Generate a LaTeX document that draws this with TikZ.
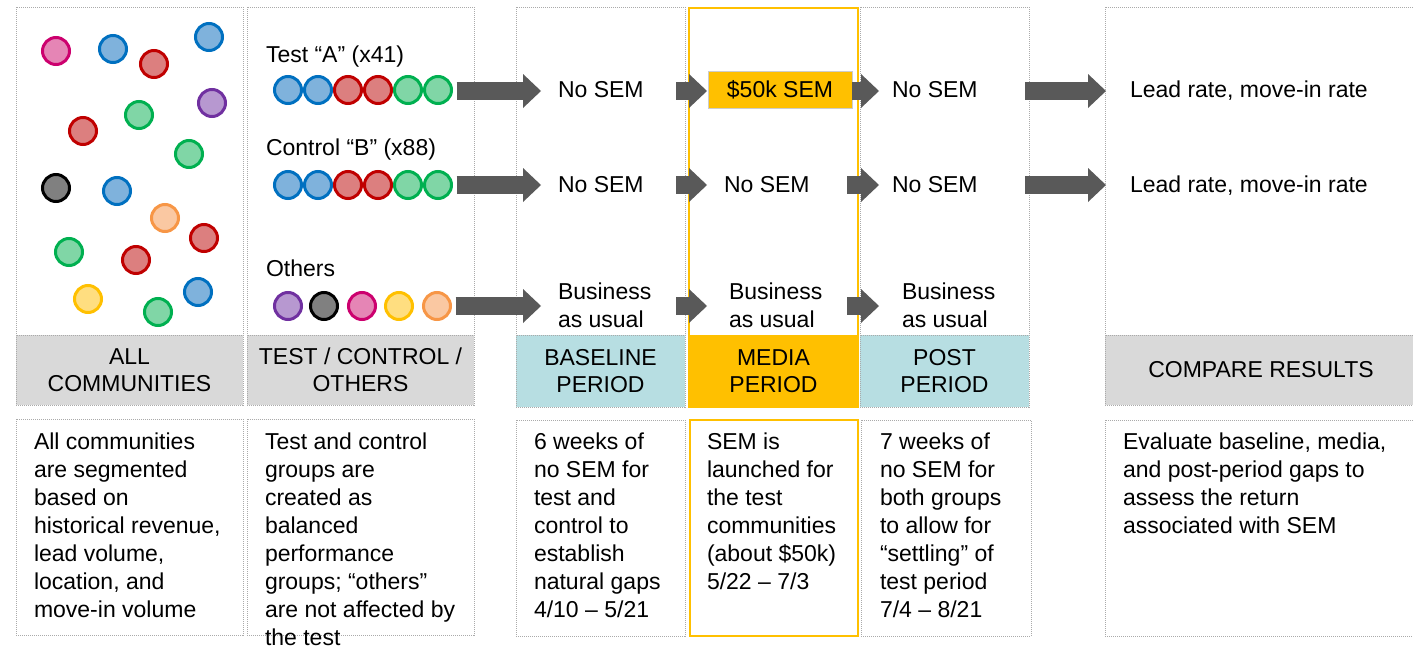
\documentclass[tikz,border=0pt]{standalone}
\usepackage{fontspec}
\setmainfont{Liberation Sans}
\usetikzlibrary{arrows.meta,calc}
\definecolor{cB}{RGB}{0,112,192}\definecolor{cBf}{RGB}{127,178,220}
\definecolor{cR}{RGB}{192,0,0}\definecolor{cRf}{RGB}{220,127,127}
\definecolor{cG}{RGB}{0,176,80}\definecolor{cGf}{RGB}{128,214,166}
\definecolor{cP}{RGB}{204,0,110}\definecolor{cPf}{RGB}{229,133,181}
\definecolor{cV}{RGB}{112,48,160}\definecolor{cVf}{RGB}{183,152,208}
\definecolor{cK}{RGB}{0,0,0}\definecolor{cKf}{RGB}{128,128,128}
\definecolor{cO}{RGB}{247,150,70}\definecolor{cOf}{RGB}{250,200,162}
\definecolor{cY}{RGB}{255,192,0}\definecolor{cYf}{RGB}{255,222,128}
\definecolor{gold}{RGB}{255,192,0}
\definecolor{teal}{RGB}{183,222,226}
\definecolor{hgray}{RGB}{217,217,217}
\definecolor{agray}{RGB}{89,89,89}
\definecolor{dotgray}{RGB}{170,170,170}
\begin{document}
\begin{tikzpicture}[x=1pt,y=-1pt,
  every node/.style={font=\fontsize{23}{28}\selectfont, inner sep=0pt, outer sep=0pt},
  dot/.style={circle, minimum size=27pt, line width=3pt, draw=c#1, fill=c#1f},
  panel/.style={draw=dotgray, dash pattern=on 1pt off 1pt, line width=1pt},
  hdr/.style={panel, align=center, font=\fontsize{23}{27}\selectfont},
  media/.style={draw=gold, line width=2pt},
  lbl/.style={anchor=base west},
  ml/.style={anchor=west, align=left},
  para/.style={anchor=north west, align=left},
  bigarrow/.style={draw=agray, line width=18pt, -{Triangle[width=34pt,length=18pt,line width=0pt]}}
]
\useasboundingbox (0,0) rectangle (1413,645);
% top panels
\node[panel, minimum width=227pt, minimum height=328pt] (p1) at (129.5,171) {};
\node[panel, minimum width=227pt, minimum height=328pt] (p2) at (360.5,171) {};
\node[panel, minimum width=169pt, minimum height=328pt] (p3) at (600.5,171) {};
\node[panel, minimum width=169pt, minimum height=328pt] (p5) at (944.5,171) {};
\node[panel, minimum width=312pt, minimum height=328pt] (p6) at (1261,171) {};
% headers
\node[hdr, fill=hgray, minimum width=227pt, minimum height=70pt] (h1) at (129.5,370) {ALL\\COMMUNITIES};
\node[hdr, fill=hgray, minimum width=227pt, minimum height=70pt] (h2) at (360.5,370) {TEST / CONTROL /\\OTHERS};
\node[hdr, fill=teal, minimum width=169pt, minimum height=72pt] (h3) at (600.5,371) {BASELINE\\PERIOD};
\node[hdr, draw=none, fill=gold, minimum width=169pt, minimum height=72pt] (h4) at (773.5,371) {MEDIA\\PERIOD};
\node[hdr, fill=teal, minimum width=169pt, minimum height=72pt] (h5) at (944.5,371) {POST\\PERIOD};
\node[hdr, fill=hgray, minimum width=312pt, minimum height=70pt] (h6) at (1261,370) {COMPARE RESULTS};
\node[media, minimum width=169pt, minimum height=399pt] (p4) at (773.5,207.5) {};
% bottom boxes
\node[panel, minimum width=227pt, minimum height=216pt] (b1) at (129.5,527) {};
\node[panel, minimum width=227pt, minimum height=216pt] (b2) at (360.5,527) {};
\node[panel, minimum width=169pt, minimum height=216pt] (b3) at (600.5,528) {};
\node[media, minimum width=168pt, minimum height=216pt] (b4) at (774,528) {};
\node[panel, minimum width=170pt, minimum height=216pt] (b5) at (946,528) {};
\node[panel, minimum width=312pt, minimum height=216pt] (b6) at (1261,528) {};
% column 1 circles
\foreach \x/\y/\c [count=\i] in {56/51/P,113/49/B,154/64/R,209/37/B,212/103/V,139/115/G,83/131/R,189/154/G,56/188/K,117/191/B,165/218/O,204/238/R,69/252/G,136/260/R,88/299/Y,198/292/B,158/312/G}
  \node[dot=\c] (s\i) at (\x,\y) {};
% column 2
\node[lbl] (la) at (266,62) {Test “A” (x41)};
\node[lbl] (lb) at (266,155) {Control “B” (x88)};
\node[lbl] (lo) at (266,276) {Others};
\foreach \x/\c [count=\i] in {288/B,318/B,348/R,378/R,408/G,438/G}
  \node[dot=\c] (ra\i) at (\x,90) {};
\foreach \x/\c [count=\i] in {288/B,318/B,348/R,378/R,408/G,438/G}
  \node[dot=\c] (rb\i) at (\x,185) {};
\foreach \x/\c [count=\i] in {288/V,324/K,362/P,399/Y,437/O}
  \node[dot=\c] (ro\i) at (\x,306) {};
\coordinate (r1) at (0,91);
\coordinate (r2) at (0,185);
\coordinate (r3) at (0,306);
% column 3
\node[lbl] (n3a) at (558,97) {No SEM};
\node[lbl] (n3b) at (558,192.5) {No SEM};
\node[ml] (n3c) at (558,305) {Business\\as usual};
% column 4
\node[draw=gray!40, line width=0.6pt, fill=gold, minimum width=144pt, minimum height=37pt] (s4a) at (780,89.5) {\$50k SEM};
\node[lbl] (n4b) at (724,192.5) {No SEM};
\node[ml] (n4c) at (729,305) {Business\\as usual};
% column 5
\node[lbl] (n5a) at (892,97) {No SEM};
\node[lbl] (n5b) at (892,192.5) {No SEM};
\node[ml] (n5c) at (902,305) {Business\\as usual};
% column 6
\node[lbl] (n6a) at (1130,97) {Lead rate, move-in rate};
\node[lbl] (n6b) at (1130,192.5) {Lead rate, move-in rate};
% arrows
\draw[bigarrow] ($(ra6.east|-r1)+(5,0)$) -- ($(p3.west|-r1)+(25,0)$);
\draw[bigarrow] ($(p3.east|-r1)+(-9,0)$) -- ($(p4.west|-r1)+(18,0)$);
\draw[bigarrow] (s4a.east|-r1) -- ($(p5.west|-r1)+(19,0)$);
\draw[bigarrow] ($(p5.east|-r1)+(-4,0)$) -- ($(p6.west|-r1)+(1,0)$);
\draw[bigarrow] ($(rb6.east|-r2)+(5,0)$) -- ($(p3.west|-r2)+(25,0)$);
\draw[bigarrow] ($(p3.east|-r2)+(-9,0)$) -- ($(p4.west|-r2)+(18,0)$);
\draw[bigarrow] ($(p4.east|-r2)+(-11,0)$) -- ($(p5.west|-r2)+(19,0)$);
\draw[bigarrow] ($(p5.east|-r2)+(-4,0)$) -- ($(p6.west|-r2)+(1,0)$);
\draw[bigarrow] ($(ro5.east|-r3)+(5,0)$) -- ($(p3.west|-r3)+(25,0)$);
\draw[bigarrow] ($(p3.east|-r3)+(-9,0)$) -- ($(p4.west|-r3)+(18,0)$);
\draw[bigarrow] ($(p4.east|-r3)+(-11,0)$) -- ($(p5.west|-r3)+(19,0)$);
% bottom texts
\node[para] (t1) at (34,433) {All communities\\are segmented\\based on\\historical revenue,\\lead volume,\\location, and\\move-in volume};
\node[para] (t2) at (265,433) {Test and control\\groups are\\created as\\balanced\\performance\\groups; “others”\\are not affected by\\the test};
\node[para] (t3) at (534,433) {6 weeks of\\no SEM for\\test and\\control to\\establish\\natural gaps\\4/10 – 5/21};
\node[para] (t4) at (707,433) {SEM is\\launched for\\the test\\communities\\(about \$50k)\\5/22 – 7/3};
\node[para] (t5) at (880,433) {7 weeks of\\no SEM for\\both groups\\to allow for\\“settling” of\\test period\\7/4 – 8/21};
\node[para] (t6) at (1123,433) {Evaluate baseline, media,\\and post-period gaps to\\assess the return\\associated with SEM};
\end{tikzpicture}
\end{document}
